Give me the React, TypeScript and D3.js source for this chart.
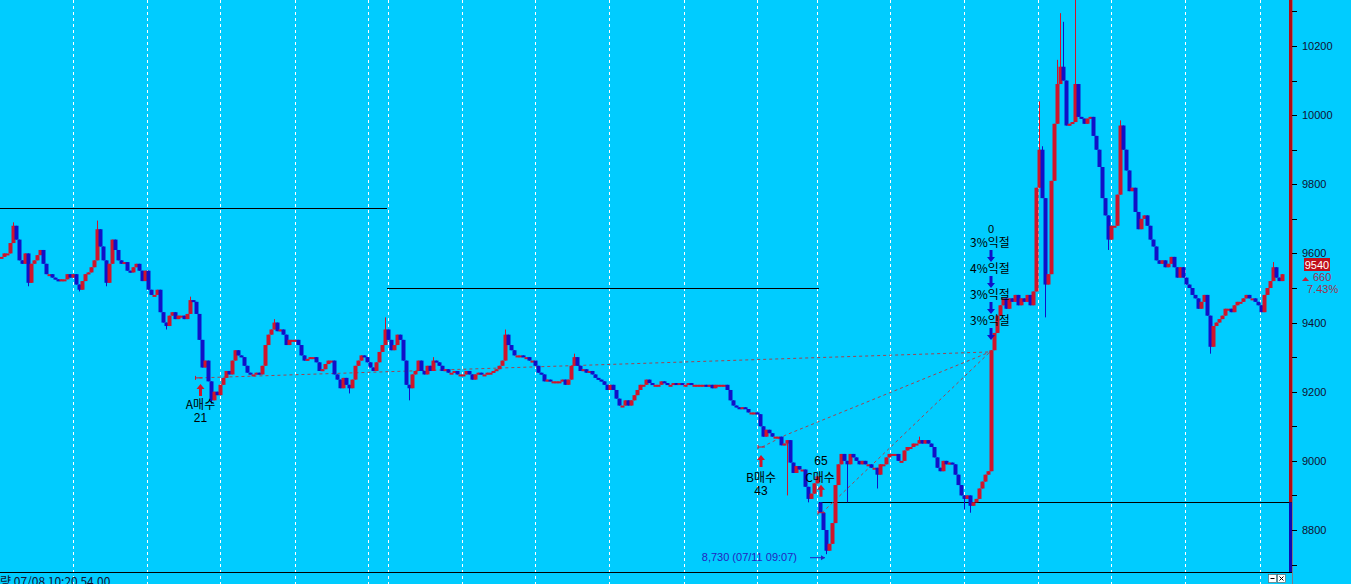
import * as d3 from "d3";

const W = 1351;
const H = 584;

// closes per 3-minute bar, opens follow the previous close
const day1Open = 9590;
const day1Close = [
  9590, 9600, 9600, 9630, 9680, 9640, 9580, 9570, 9600, 9515,
  9570, 9580, 9595, 9610, 9570, 9540, 9540, 9530, 9525, 9520,
  9525, 9525, 9540, 9530, 9540, 9510, 9495, 9520, 9540, 9545,
  9560, 9580, 9670, 9620, 9580, 9515, 9570, 9640, 9610, 9580,
  9570, 9575, 9550, 9545, 9560, 9570, 9550, 9520, 9550, 9495,
  9480, 9480, 9495, 9430, 9400, 9390, 9420, 9430, 9410, 9420,
  9420, 9410, 9425, 9465, 9460, 9425, 9350, 9270, 9290, 9230,
  9175, 9200, 9190, 9220, 9240, 9260, 9250, 9290, 9320, 9305,
  9300, 9275, 9255, 9250, 9250, 9255, 9250, 9275, 9335, 9365,
  9380, 9400, 9375, 9380, 9365, 9335, 9350, 9350, 9350, 9335,
  9305, 9290, 9295, 9300, 9300, 9285, 9260, 9265, 9280, 9290,
  9290, 9250, 9235, 9210, 9240, 9220, 9210, 9235, 9275, 9290,
  9305, 9300, 9285, 9270, 9260, 9285, 9315, 9335, 9380,
];

const day2Open = 9380;
const day2Close = [
  9350, 9320, 9335, 9365, 9350, 9290, 9220, 9210, 9250, 9260,
  9290, 9260, 9250, 9275, 9260, 9290, 9285, 9275, 9260, 9265,
  9255, 9255, 9260, 9250, 9250, 9250, 9260, 9250, 9235, 9250,
  9255, 9250, 9250, 9255, 9255, 9260, 9265, 9275, 9290, 9365,
  9335, 9320, 9305, 9305, 9305, 9300, 9300, 9290, 9290, 9275,
  9255, 9250, 9230, 9235, 9230, 9230, 9230, 9230, 9235, 9220,
  9235, 9275, 9300, 9275, 9260, 9265, 9255, 9260, 9250, 9240,
  9235, 9230, 9220, 9205, 9220, 9205, 9180, 9160, 9160, 9175,
  9160, 9175, 9190, 9205, 9220, 9220, 9235, 9225, 9220, 9220,
  9220, 9230, 9225, 9220, 9220, 9225, 9220, 9225, 9220, 9220,
  9225, 9220, 9220, 9220, 9220, 9220, 9215, 9220, 9210, 9220,
  9220, 9220, 9220, 9205, 9175, 9160, 9155, 9150, 9155, 9150,
  9140, 9140, 9140, 9135, 9100, 9070, 9090, 9080, 9070, 9070,
  9070, 9045, 9050, 9060, 8995, 8965, 8985, 8975, 8975, 8925,
  8890, 8905, 8935, 8955,
];

const day3Open = 8880;
const day3Close = [
  8850, 8800, 8740, 8760, 8820, 8930, 8990, 9020, 9000, 8990,
  9020, 9010, 9000, 8990, 9000, 8990, 8990, 8980, 8980, 8960,
  8990, 8990, 9010, 9020, 9020, 9020, 9000, 9000, 9030, 9040,
  9040, 9050, 9050, 9060, 9050, 9060, 9050, 9040, 9010, 8980,
  8970, 9000, 8990, 8995, 8990, 8960, 8930, 8900, 8890, 8900,
  8870, 8880, 8890, 8920, 8940, 8960, 8970, 9320, 9370, 9420,
  9450, 9470, 9440, 9470, 9460, 9480, 9450, 9470, 9460, 9480,
  9450, 9490, 9790, 9900, 9760, 9510, 9540, 9810, 9975, 10090,
  10140, 10100, 9970, 9975, 9980, 10090, 9995, 9990, 9975, 9990,
  9995, 9940, 9900, 9850, 9760, 9710, 9640, 9680, 9680, 9770,
  9970, 9900, 9840, 9780, 9790, 9720, 9670, 9700, 9710, 9680,
  9640, 9620, 9580, 9570, 9580, 9560, 9570, 9590, 9560, 9530,
  9560, 9530, 9510, 9500, 9480, 9470, 9440, 9460, 9480, 9420,
  9330, 9390, 9400, 9410, 9420, 9440, 9440, 9430, 9450, 9460,
  9460, 9470, 9480, 9470, 9470, 9460, 9450, 9430, 9480, 9500,
  9520, 9560, 9530, 9520, 9540,
];

// [day, bar, price] wick extremes
const wickHighs = [
  [0, 4, 9690], [0, 32, 9695], [0, 63, 9475], [0, 91, 9410], [0, 128, 9415],
  [1, 15, 9300], [1, 39, 9380], [1, 62, 9310],
  [2, 33, 9070], [2, 73, 10040], [2, 74, 9910], [2, 79, 10160], [2, 80, 10295],
  [2, 81, 10270], [2, 85, 10340], [2, 100, 9985], [2, 151, 9575],
];
const wickLows = [
  [0, 9, 9505], [0, 26, 9490], [0, 35, 9505], [0, 55, 9380], [0, 70, 9165], [0, 116, 9195],
  [1, 7, 9175], [1, 133, 8900], [1, 140, 8880],
  [2, 2, 8730], [2, 9, 8880], [2, 19, 8920], [2, 48, 8860], [2, 50, 8850],
  [2, 75, 9415], [2, 96, 9610], [2, 130, 9310],
];

// reference price line per day
const dayBase = [9730, 9500, 8880];

// vertical grid positions, in bar units
const gridSlots = [
  24.3, 49, 73.3, 98.3, 122.7, 129.3, 154, 178.3, 203, 228, 252.3,
  272.3, 296.7, 321.3, 346, 370.3, 395, 420,
];

const yTicks = d3.range(8700, 10400, 100);
const yLabels = [8800, 9000, 9200, 9400, 9600, 9800, 10000, 10200];

// trade marks: bar index, price
const buyA = { i: 66.5, p: 9240, qty: "21" };
const buyB = { i: 254, p: 9040, qty: "43" };
const buyC = { i: 274, p: 8850, qty: "65" };
const sellPt = { i: 330, p: 9315 };
const sellLabels = ["3%익절", "4%익절", "3%익절", "3%익절"];

const lastPrice = 9540;
const change = 660;
const changePct = "7.43%";
const lowPrice = 8730;

const RED = "#d0142a";
const BLUE = "#1010c8";
const BG = "#00ccff";
const DASH = "#a04450";

export default function App() {
  const days = [
    { open: day1Open, close: day1Close },
    { open: day2Open, close: day2Close },
    { open: day3Open, close: day3Close },
  ];
  const bars: { i: number; o: number; c: number; h: number; l: number }[] = [];
  const dayStart: number[] = [];
  days.forEach((d, di) => {
    dayStart.push(bars.length);
    d.close.forEach((c, k) => {
      const o = k === 0 ? d.open : d.close[k - 1];
      let h = Math.max(o, c);
      let l = Math.min(o, c);
      wickHighs.forEach(([dd, b, v]) => {
        if (dd === di && b === k) h = Math.max(h, v);
      });
      wickLows.forEach(([dd, b, v]) => {
        if (dd === di && b === k) l = Math.min(l, v);
      });
      bars.push({ i: bars.length, o, c, h, l });
    });
  });
  dayStart.push(bars.length);

  const x = d3.scaleLinear().domain([0, bars.length]).range([0, bars.length * 3]);
  const y = d3.scaleLinear().domain([8800, 10200]).range([530, 46]);
  const axisX = 1292;

  const upArrow = (cx: number, ty: number) =>
    `M${cx},${ty} L${cx + 4},${ty + 5} L${cx + 1.5},${ty + 5} L${cx + 1.5},${ty + 12} L${cx - 1.5},${ty + 12} L${cx - 1.5},${ty + 5} L${cx - 4},${ty + 5} Z`;
  const downArrow = (cx: number, ty: number) =>
    `M${cx},${ty + 12} L${cx + 4},${ty + 7} L${cx + 1.5},${ty + 7} L${cx + 1.5},${ty} L${cx - 1.5},${ty} L${cx - 1.5},${ty + 7} L${cx - 4},${ty + 7} Z`;

  const ax = x(buyA.i), ay = y(buyA.p);
  const bx = x(buyB.i), by = y(buyB.p);
  const cx = x(buyC.i), cy = y(buyC.p);
  const sx = x(sellPt.i), sy = y(sellPt.p);
  const kr = "'Noto Sans CJK KR', 'DejaVu Sans', sans-serif";
  const num = "'Liberation Sans', Arial, sans-serif";

  return (
    <div style={{ position: "absolute", left: 0, top: 0 }}>
      <svg width={W} height={H} style={{ display: "block", background: BG }}>
        <rect width={W} height={H} fill={BG} />

        {gridSlots.map((g, k) => (
          <line key={k} x1={Math.round(x(g)) + 0.5} x2={Math.round(x(g)) + 0.5} y1={0} y2={H}
            stroke="#ffffff" strokeDasharray="3,3" strokeWidth={1} />
        ))}

        {dayBase.map((p, k) => (
          <line key={k} x1={x(dayStart[k])} x2={k === 2 ? axisX : x(dayStart[k + 1])}
            y1={Math.round(y(p)) + 0.5} y2={Math.round(y(p)) + 0.5} stroke="#000" strokeWidth={1} />
        ))}

        {/* trade links */}
        <g fill="none" stroke={DASH} strokeWidth={1} strokeDasharray="3,3">
          <line x1={ax} y1={ay} x2={sx} y2={sy} />
          <polyline points={`${bx},${by} ${x(262)},${y(9075)} ${sx},${sy}`} />
          <line x1={cx} y1={cy} x2={sx} y2={sy} />
        </g>

        {/* candles */}
        <g>
          {bars.map((b) => {
            const up = b.c >= b.o;
            const col = up ? RED : BLUE;
            const xc = x(b.i + 0.5);
            const top = y(Math.max(b.o, b.c));
            const bot = y(Math.min(b.o, b.c));
            return (
              <g key={b.i}>
                <line x1={xc} x2={xc} y1={y(b.h)} y2={y(b.l)} stroke={col} strokeWidth={1} />
                <rect x={xc - 2} y={top} width={4} height={Math.max(2, bot - top)} fill={col} />
              </g>
            );
          })}
        </g>

        {/* buy markers */}
        {[
          { px: ax, py: ay },
          { px: bx, py: by },
          { px: cx, py: cy },
        ].map((m, k) => (
          <g key={k} stroke={RED} strokeWidth={1}>
            <line x1={m.px - 4} x2={m.px + 3} y1={m.py} y2={m.py} />
            <line x1={m.px - 4} x2={m.px - 4} y1={m.py - 2} y2={m.py + 2} />
          </g>
        ))}
        <path d={upArrow(ax + 1, ay + 6)} fill={RED} />
        <text x={ax + 1} y={ay + 31} textAnchor="middle" fontSize={12} fontFamily={kr} fill="#000">A매수</text>
        <text x={ax + 1} y={ay + 44} textAnchor="middle" fontSize={12} fontFamily={num} fill="#000">{buyA.qty}</text>

        <path d={upArrow(bx - 1, by + 8)} fill={RED} />
        <text x={bx - 1} y={by + 35} textAnchor="middle" fontSize={12} fontFamily={kr} fill="#000">B매수</text>
        <text x={bx - 1} y={by + 48} textAnchor="middle" fontSize={12} fontFamily={num} fill="#000">{buyB.qty}</text>

        <path d={upArrow(cx - 1, cy - 28)} fill={RED} />
        <text x={cx - 1} y={cy - 48} textAnchor="middle" fontSize={12} fontFamily={num} fill="#000">{buyC.qty}</text>
        <text x={cx - 2} y={cy - 31} textAnchor="middle" fontSize={12} fontFamily={kr} fill="#000">C매수</text>

        {/* sell stack */}
        <text x={sx + 1} y={sy - 119} textAnchor="middle" fontSize={11} fontFamily={num} fill="#000">0</text>
        {sellLabels.map((s, k) => (
          <g key={k}>
            <text x={sx} y={sy - 105 + k * 26} textAnchor="middle" fontSize={12} fontFamily={kr} fill="#000">{s}</text>
            <path d={downArrow(sx + 1, sy - 102 + k * 26)} fill={BLUE} />
          </g>
        ))}

        {/* day low note */}
        <text x={797} y={y(lowPrice) + 7} textAnchor="end" fontSize={11} fontFamily={num} fill="#2424c0">
          {d3.format(",")(lowPrice)} (07/11 09:07)
        </text>
        <line x1={810} x2={825} y1={y(lowPrice) + 3.5} y2={y(lowPrice) + 3.5} stroke="#2424c0" strokeWidth={1} />
        <path d={`M825,${y(lowPrice) + 3.5} l-4,-2.5 l0,5 Z`} fill="#2424c0" />

        {/* right axis */}
        <rect x={axisX - 3} y={0} width={3} height={y(dayBase[2])} fill="#b40a14" />
        <rect x={axisX - 3} y={y(dayBase[2])} width={3} height={572 - y(dayBase[2])} fill="#0a0ab4" />
        <line x1={axisX + 0.5} x2={axisX + 0.5} y1={0} y2={H} stroke="#7a7a8a" strokeWidth={1} />
        {yTicks.map((t) => (
          <line key={t} x1={axisX} x2={axisX + 5} y1={Math.round(y(t)) + 0.5} y2={Math.round(y(t)) + 0.5} stroke="#000" />
        ))}
        {yLabels.map((t) => (
          <text key={t} x={axisX + 10} y={y(t) + 4} fontSize={11} fontFamily={num} fill="#101030">{t}</text>
        ))}

        {/* last price badge */}
        <rect x={1304} y={258} width={26} height={13} fill="#c0101c" />
        <text x={1317} y={269} textAnchor="middle" fontSize={11} fontFamily={num} fill="#fff">{lastPrice}</text>
        <path d="M1302,281 l3.5,-4 l3.5,4 Z" fill="#c0203a" />
        <text x={1313} y={281} fontSize={11} fontFamily={num} fill="#a0304a">{change}</text>
        <text x={1307} y={293} fontSize={11} fontFamily={num} fill="#a0304a">{changePct}</text>

        {/* bottom strip */}
        <line x1={0} x2={axisX} y1={572.5} y2={572.5} stroke="#000" strokeWidth={1} />
        <text x={0} y={586} fontSize={12} fontFamily={kr} fill="#101030">량  07/08 10:20 54.00</text>
        <rect x={1268.5} y={574.5} width={8} height={8} fill="#fff" stroke="#555" strokeWidth={0.6} />
        <line x1={1270.5} x2={1274.5} y1={578.5} y2={578.5} stroke="#000" />
        <rect x={1277.5} y={574.5} width={8} height={8} fill="#fff" stroke="#555" strokeWidth={0.6} />
        <path d="M1279.5,576.5 L1283.5,580.5 M1283.5,576.5 L1279.5,580.5" stroke="#000" />
      </svg>
    </div>
  );
}
